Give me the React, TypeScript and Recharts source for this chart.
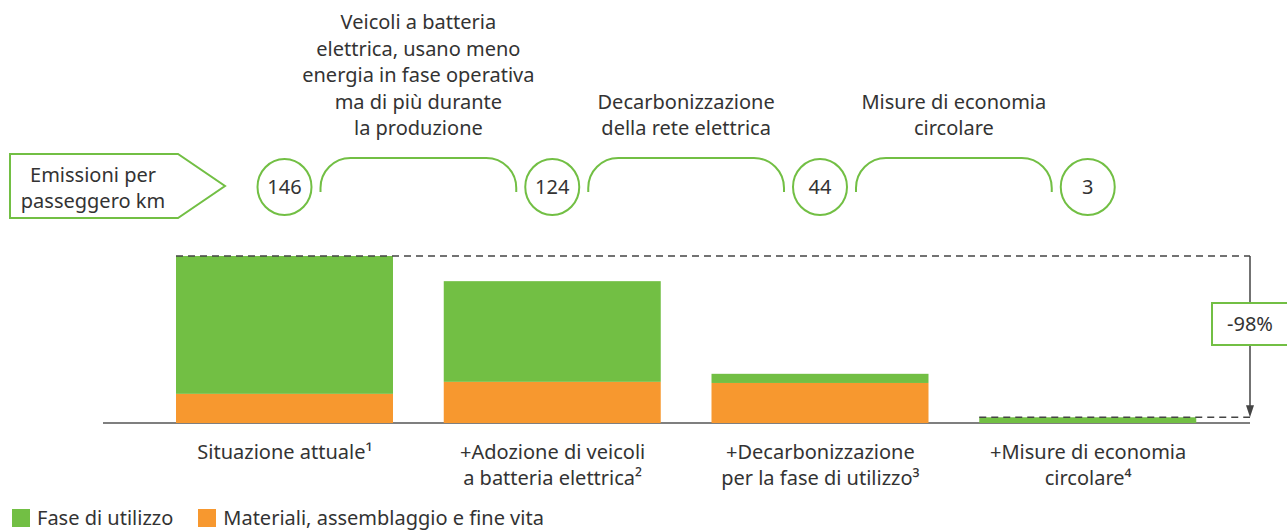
import { BarChart, Bar, XAxis, YAxis, Legend, LabelList, Customized } from "recharts";

const CATEGORIES = [
    "Situazione attuale¹",
    "+Adozione di veicoli\na batteria elettrica²",
    "+Decarbonizzazione\nper la fase di utilizzo³",
    "+Misure di economia\ncircolare⁴",
];
const FASE_UTILIZZO = [120.5, 88, 8, 5];
const MATERIALI = [25.5, 36, 35, 0];
const TOTALI = [146, 124, 44, 3];
const STEP_NOTES = [
    ["Veicoli a batteria", "elettrica, usano meno", "energia in fase operativa", "ma di più durante", "la produzione"],
    ["Decarbonizzazione", "della rete elettrica"],
    ["Misure di economia", "circolare"],
];

const GREEN = "#72BF44";
const ORANGE = "#F7982F";
const TEXT = "#333333";
const FONT = "'Noto Sans', sans-serif";
const FS = 20;

// layout
const W = 1287;
const H = 532;
const MARGIN = { top: 256, right: 65, left: 151, bottom: 29 };
const STEP = (W - MARGIN.left - MARGIN.right) / CATEGORIES.length;
const ARROW_X = 1250;
const BASE_Y = H - MARGIN.bottom - 80;

const data = CATEGORIES.map((name, i) => ({
    name,
    materiali: MATERIALI[i],
    fase: FASE_UTILIZZO[i],
    total: TOTALI[i],
}));

const reduction = Math.round(((TOTALI[TOTALI.length - 1] - TOTALI[0]) / TOTALI[0]) * 100);

function CategoryTick({ x, y, payload }: any) {
    const lines = String(payload.value).split("\n");
    return (
        <text x={x} y={y} textAnchor="middle" fill={TEXT} fontSize={FS} fontFamily={FONT}>
            {lines.map((l, i) => (
                <tspan key={i} x={x} dy={i === 0 ? 36 : 26}>
                    {l}
                </tspan>
            ))}
        </text>
    );
}

// top stack: draws the dashed guides on the first and last bar + the arrow
function FaseShape(props: any) {
    const { x, y, width, height, index, background } = props;
    const last = index === CATEGORIES.length - 1;
    return (
        <g>
            <rect x={x} y={y} width={width} height={Math.max(height, 0)} fill={GREEN} />
            {(index === 0 || last) && (
                <line x1={x} y1={y} x2={ARROW_X} y2={y} stroke="#444" strokeWidth={1.5} strokeDasharray="7 5" />
            )}
            {last && (
                <g>
                    <line x1={ARROW_X} y1={background.y} x2={ARROW_X} y2={y - 10} stroke="#444" strokeWidth={1.5} />
                    <polygon points={`${ARROW_X - 4},${y - 12} ${ARROW_X + 4},${y - 12} ${ARROW_X},${y}`} fill="#444" />
                    <rect x={ARROW_X - 38} y={303} width={78} height={42} fill="#fff" stroke={GREEN} strokeWidth={2} />
                    <text x={ARROW_X} y={331} textAnchor="middle" fontSize={FS} fontFamily={FONT} fill={TEXT}>
                        {`${reduction}%`}
                    </text>
                </g>
            )}
        </g>
    );
}

// circles with the totals above each bar, brackets and notes between them
function TotalMarker(props: any) {
    const { x, width, index, value } = props;
    const cx = x + width / 2;
    const cy = 187;
    const note = STEP_NOTES[index];
    const x1 = cx + 36;
    const x2 = cx + STEP - 36;
    const r = 30;
    const top = 158;
    return (
        <g>
            <ellipse cx={cx} cy={cy} rx={27} ry={28} fill="#fff" stroke={GREEN} strokeWidth={2} />
            <text x={cx} y={cy + 7} textAnchor="middle" fontSize={FS} fontFamily={FONT} fill={TEXT}>
                {value}
            </text>
            {note && (
                <g>
                    <path
                        d={`M${x1},192 L${x1},${top + r} A${r},${r} 0 0 1 ${x1 + r},${top} L${x2 - r},${top} A${r},${r} 0 0 1 ${x2},${top + r} L${x2},192`}
                        fill="none"
                        stroke={GREEN}
                        strokeWidth={2}
                    />
                    <text x={cx + STEP / 2} textAnchor="middle" fontSize={FS} fontFamily={FONT} fill={TEXT}>
                        {note.map((l, i) => (
                            <tspan key={i} x={cx + STEP / 2} y={135 - (note.length - 1 - i) * 26.5}>
                                {l}
                            </tspan>
                        ))}
                    </text>
                </g>
            )}
        </g>
    );
}

function Decor() {
    return (
        <g>
            <line x1={103} y1={BASE_Y} x2={ARROW_X} y2={BASE_Y} stroke="#555" strokeWidth={1.5} />
            <polygon points="10,154 178,154 225,186 178,218 10,218" fill="#fff" stroke={GREEN} strokeWidth={2} />
            <text textAnchor="middle" fontSize={FS} fontFamily={FONT} fill={TEXT}>
                <tspan x={93} y={182}>Emissioni per</tspan>
                <tspan x={93} y={208}>passeggero km</tspan>
            </text>
        </g>
    );
}

function LegendContent(props: any) {
    const items = props.payload || [];
    return (
        <div style={{ display: "flex", fontFamily: FONT, fontSize: FS, color: TEXT, lineHeight: "24px" }}>
            {items.map((it: any) => (
                <div key={it.value} style={{ display: "flex", alignItems: "center", marginRight: 25 }}>
                    <span style={{ width: 18, height: 18, background: it.color, marginRight: 7, display: "inline-block" }} />
                    <span>{it.value}</span>
                </div>
            ))}
        </div>
    );
}

export default function App() {
    return (
        <div style={{ position: "absolute", left: 0, top: 0, width: W, height: H, overflow: "hidden" }}>
            <BarChart width={W} height={H} data={data} margin={MARGIN} barSize={217}>
                <Customized component={Decor} />
                <XAxis
                    dataKey="name"
                    height={80}
                    tickLine={false}
                    tickSize={0}
                    tickMargin={0}
                    interval={0}
                    axisLine={false}
                    tick={<CategoryTick />}
                />
                <YAxis hide domain={[0, 146]} />
                <Legend
                    layout="horizontal"
                    verticalAlign="middle"
                    align="center"
                    wrapperStyle={{ left: 12, top: 506, width: 700 }}
                    content={<LegendContent />}
                />
                <Bar dataKey="materiali" name="Materiali, assemblaggio e fine vita" stackId="a" fill={ORANGE} isAnimationActive={false} />
                <Bar
                    dataKey="fase"
                    name="Fase di utilizzo"
                    stackId="a"
                    fill={GREEN}
                    isAnimationActive={false}
                    shape={<FaseShape />}
                >
                    <LabelList dataKey="total" content={<TotalMarker />} />
                </Bar>
            </BarChart>
        </div>
    );
}
